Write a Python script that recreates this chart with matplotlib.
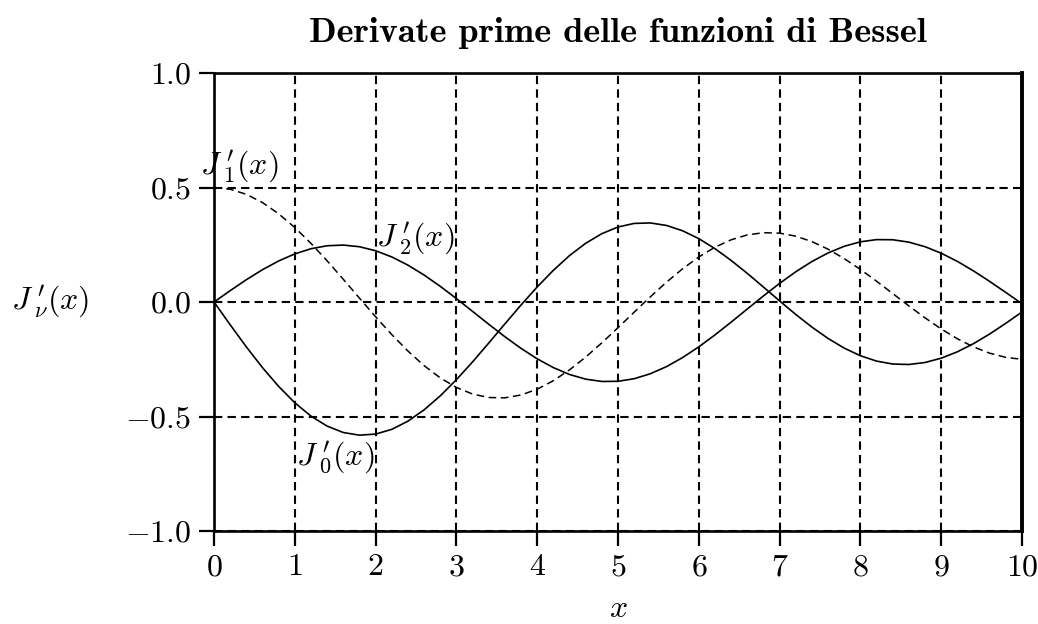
import matplotlib.pyplot as plt

plt.rcParams['font.family'] = 'serif'
plt.rcParams['font.serif'] = ['cmr10']
plt.rcParams['mathtext.fontset'] = 'cm'
plt.rcParams['axes.unicode_minus'] = True
plt.rcParams['axes.formatter.use_mathtext'] = True

# x grid and first derivatives of J_0, J_1, J_2
x = [round(0.2 * i, 1) for i in range(51)]
dj0 = [0.0000, -0.0995, -0.1960, -0.2867, -0.3688, -0.4401, -0.4983, -0.5419, -0.5699, -0.5815,
       -0.5767, -0.5560, -0.5202, -0.4708, -0.4097, -0.3391, -0.2613, -0.1792, -0.0955, -0.0128,
       0.0660, 0.1386, 0.2028, 0.2566, 0.2985, 0.3276, 0.3432, 0.3453, 0.3343, 0.3110,
       0.2767, 0.2329, 0.1816, 0.1250, 0.0652, 0.0047, -0.0543, -0.1096, -0.1592, -0.2014,
       -0.2346, -0.2580, -0.2708, -0.2728, -0.2641, -0.2453, -0.2174, -0.1816, -0.1395, -0.0928,
       -0.0435]
dj1 = [0.5000, 0.4925, 0.4703, 0.4342, 0.3852, 0.3251, 0.2559, 0.1797, 0.0992, 0.0169,
       -0.0645, -0.1423, -0.2142, -0.2779, -0.3314, -0.3731, -0.4019, -0.4170, -0.4183, -0.4059,
       -0.3806, -0.3435, -0.2962, -0.2404, -0.1782, -0.1121, -0.0443, 0.0227, 0.0867, 0.1453,
       0.1968, 0.2393, 0.2717, 0.2930, 0.3027, 0.3007, 0.2875, 0.2638, 0.2307, 0.1896,
       0.1423, 0.0908, 0.0369, -0.0171, -0.0692, -0.1176, -0.1604, -0.1961, -0.2235, -0.2417,
       -0.2503]
dj2 = [0.0000, 0.0497, 0.0974, 0.1412, 0.1793, 0.2102, 0.2327, 0.2457, 0.2487, 0.2414,
       0.2239, 0.1968, 0.1610, 0.1178, 0.0685, 0.0150, -0.0409, -0.0971, -0.1516, -0.2026,
       -0.2481, -0.2865, -0.3165, -0.3368, -0.3469, -0.3462, -0.3349, -0.3132, -0.2821, -0.2424,
       -0.1957, -0.1436, -0.0879, -0.0305, 0.0266, 0.0814, 0.1321, 0.1769, 0.2144, 0.2434,
       0.2629, 0.2725, 0.2719, 0.2614, 0.2415, 0.2131, 0.1774, 0.1358, 0.0899, 0.0416,
       -0.0075]

xticks = list(range(11))
yticks = [-1.0, -0.5, 0.0, 0.5, 1.0]
ytick_labels = [r'$-1.0$', r'$-0.5$', r'$0.0$', r'$0.5$', r'$1.0$']

fig = plt.figure(figsize=(10.38, 6.24), dpi=100)
ax = fig.add_axes([0.2062, 0.149, 0.7784, 0.734])

ax.plot(x, dj0, color='black', lw=1.2)
ax.plot(x, dj1, color='black', lw=1.1, dashes=(5, 3))
ax.plot(x, dj2, color='black', lw=1.2)

ax.set_xlim(0, 10)
ax.set_ylim(-1, 1)
ax.set_xticks(xticks)
ax.set_xticklabels([rf'${t}$' for t in xticks])
ax.set_yticks(yticks)
ax.set_yticklabels(ytick_labels)
ax.tick_params(direction='out', length=10.5, width=1.6, labelsize=23, pad=6, colors='black')
ax.grid(True, color='black', lw=1.5, linestyle=(0, (4, 2.5)))
for s in ax.spines.values():
    s.set_linewidth(1.9)
ax.spines['right'].set_linewidth(2.8)

ax.text(0.31, 0.59, r'$J^{\;\prime}_{\;1}(x)$', fontsize=23, ha='center', va='center')
ax.text(2.49, 0.275, r'$J^{\;\prime}_{\;2}(x)$', fontsize=23, ha='center', va='center')
ax.text(1.5, -0.68, r'$J^{\;\prime}_{\;0}(x)$', fontsize=23, ha='center', va='center')

ax.text(-0.203, 0.5, r'$J^{\;\prime}_{\;\nu}(x)$', fontsize=23, ha='center', va='center',
        transform=ax.transAxes)
ax.set_xlabel(r'$x$', fontsize=23, labelpad=10)
fig.text(0.5954, 0.947, 'Derivate prime delle funzioni di Bessel', fontsize=26,
         fontfamily='cmb10', ha='center', va='center')

fig.savefig('out.png', dpi=100)
